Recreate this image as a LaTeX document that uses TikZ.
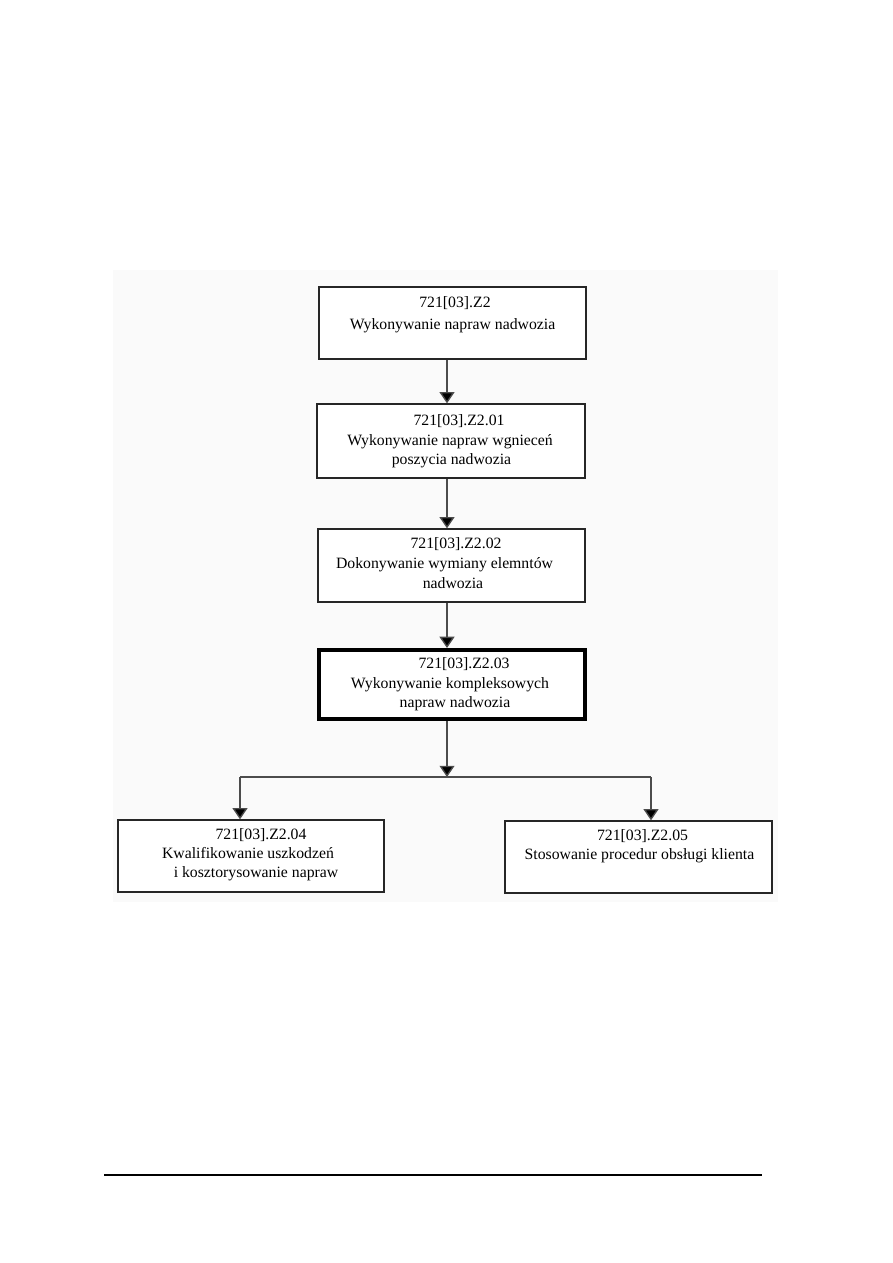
\documentclass[tikz,border=0pt]{standalone}
\usepackage{fontspec}
\setmainfont{Liberation Serif}
\usetikzlibrary{arrows.meta}
\begin{document}
\begin{tikzpicture}[x=0.66667pt,y=-0.66667pt,
  box/.style n args={2}{draw=black!85,line width=0.9pt,fill=white,inner sep=0pt,
    minimum width=#1*0.66667pt,minimum height=#2*0.66667pt},
  thickbox/.style={line width=2.7pt,draw=black},
  lbl/.style={anchor=base,inner sep=0pt,font=\fontsize{10.5}{13}\selectfont},
  conn/.style={draw=black!70,line width=0.9pt,-{Triangle[width=10pt,length=7.5pt,fill=black]}},
  plain/.style={draw=black!70,line width=0.9pt}]
\useasboundingbox (0,0) rectangle (893,1263);
\fill[black!2] (113,270) rectangle (778,902);

% boxes
\node[box={267}{72}] (b1) at (452.5,323) {};
\node[box={268}{74}] (b2) at (451,441) {};
\node[box={267}{73}] (b3) at (451.5,565.5) {};
\node[box={266}{69},thickbox] (b4) at (452,684.5) {};
\node[box={266}{72}] (b5) at (251,856) {};
\node[box={267}{72}] (b6) at (638.5,857) {};

% labels
\node[lbl] (t1a) at (455,307) {721[03].Z2};
\node[lbl] (t1b) at (452.5,329) {Wykonywanie napraw nadwozia};

\node[lbl] (t2a) at (459,425) {721[03].Z2.01};
\node[lbl] (t2b) at (450,445) {Wykonywanie napraw wgnieceń};
\node[lbl] (t2c) at (451.5,464) {poszycia nadwozia};

\node[lbl] (t3a) at (456,548) {721[03].Z2.02};
\node[lbl] (t3b) at (444.5,568) {Dokonywanie wymiany elemntów};
\node[lbl] (t3c) at (453,588) {nadwozia};

\node[lbl] (t4a) at (464,668) {721[03].Z2.03};
\node[lbl] (t4b) at (450,688) {Wykonywanie kompleksowych};
\node[lbl] (t4c) at (455,707) {napraw nadwozia};

\node[lbl] (t5a) at (261,839) {721[03].Z2.04};
\node[lbl] (t5b) at (248,858) {Kwalifikowanie uszkodzeń};
\node[lbl] (t5c) at (256,877) {i kosztorysowanie napraw};

\node[lbl] (t6a) at (642.5,840) {721[03].Z2.05};
\node[lbl] (t6b) at (639.5,859) {Stosowanie procedur obsługi klienta};

% connectors
\coordinate (axis) at (447,0);
\coordinate (jn) at (447,777);
\coordinate (jl) at (240,777);
\coordinate (jr) at (651,777);
\draw[conn] (b1.south -| axis) -- (b2.north -| axis);
\draw[conn] (b2.south -| axis) -- (b3.north -| axis);
\draw[conn] (b3.south -| axis) -- (b4.north -| axis);
\draw[conn] (b4.south -| axis) -- (jn);
\draw[plain] (jl) -- (jr);
\draw[conn] (jl) -- (b5.north -| jl);
\draw[conn] (jr) -- (b6.north -| jr);

% footer rule
\coordinate (fl) at (104,1175);
\coordinate (fr) at (762,1175);
\draw[line width=0.8pt] (fl) -- (fr);
\end{tikzpicture}
\end{document}
